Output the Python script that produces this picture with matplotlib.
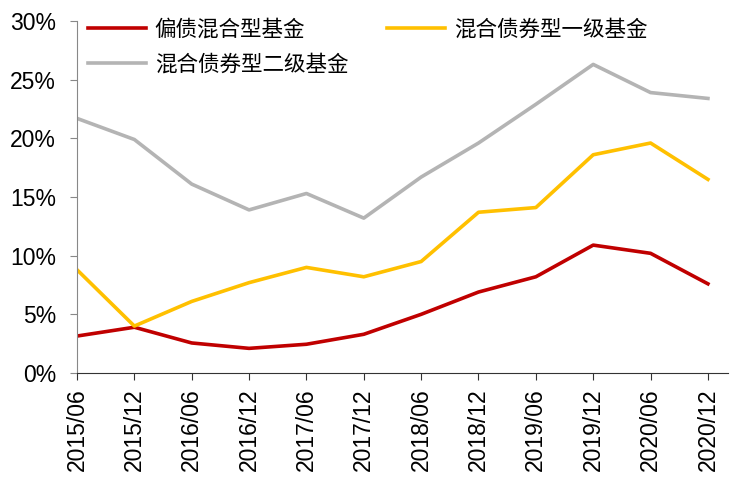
import matplotlib
matplotlib.use("Agg")
import matplotlib.pyplot as plt
from matplotlib.ticker import FuncFormatter

categories = ["2015/06", "2015/12", "2016/06", "2016/12", "2017/06", "2017/12",
              "2018/06", "2018/12", "2019/06", "2019/12", "2020/06", "2020/12"]
partial_bond = [3.15, 3.9, 2.56, 2.1, 2.45, 3.3, 5.0, 6.9, 8.2, 10.9, 10.2, 7.6]
bond_level1 = [8.8, 4.0, 6.1, 7.7, 9.0, 8.2, 9.5, 13.7, 14.1, 18.6, 19.6, 16.5]
bond_level2 = [21.7, 19.9, 16.1, 13.9, 15.3, 13.2, 16.7, 19.6, 22.9, 26.3, 23.9, 23.4]
names = ["偏债混合型基金", "混合债券型一级基金", "混合债券型二级基金"]

plt.rcParams['font.family'] = ['Liberation Sans', 'DejaVu Sans']

fig = plt.figure(figsize=(7.38, 4.86), dpi=100)
ax = fig.add_axes([77/738, 113/486, (728-77)/738, (373-21)/486])

x = list(range(len(categories)))
l1, = ax.plot(x, partial_bond, color="#C00000", lw=2.6, label=names[0])
l2, = ax.plot(x, bond_level1, color="#FFC000", lw=2.6, label=names[1])
l3, = ax.plot(x, bond_level2, color="#B4B4B4", lw=2.6, label=names[2])

ax.set_xlim(0, 11.35)
ax.set_ylim(0, 30)
ax.set_yticks([0, 5, 10, 15, 20, 25, 30])
ax.yaxis.set_major_formatter(FuncFormatter(lambda v, p: f"{int(v)}%"))
ax.set_xticks(x)
ax.set_xticklabels(categories, rotation=90)

for s in ["top", "right"]:
    ax.spines[s].set_visible(False)
ax.spines["left"].set_color("#888888")
ax.spines["bottom"].set_color("#333333")
ax.tick_params(axis="y", direction="out", length=5, color="#888888", labelsize=16.5, pad=10)
ax.tick_params(axis="x", direction="out", length=5, color="#333333", labelsize=16.5, pad=6)

leg = fig.legend(handles=[l1, l3, l2], labels=[names[0], names[2], names[1]],
                 ncol=2, loc="upper left", bbox_to_anchor=(88/738, 1 - 19/486),
                 frameon=False, borderaxespad=0, borderpad=0,
                 handlelength=2.7, handletextpad=0.4, columnspacing=1.8,
                 labelspacing=0.6,
                 prop={"family": ["Noto Sans CJK SC"], "size": 15.5})

fig.savefig("out.png", dpi=100)
